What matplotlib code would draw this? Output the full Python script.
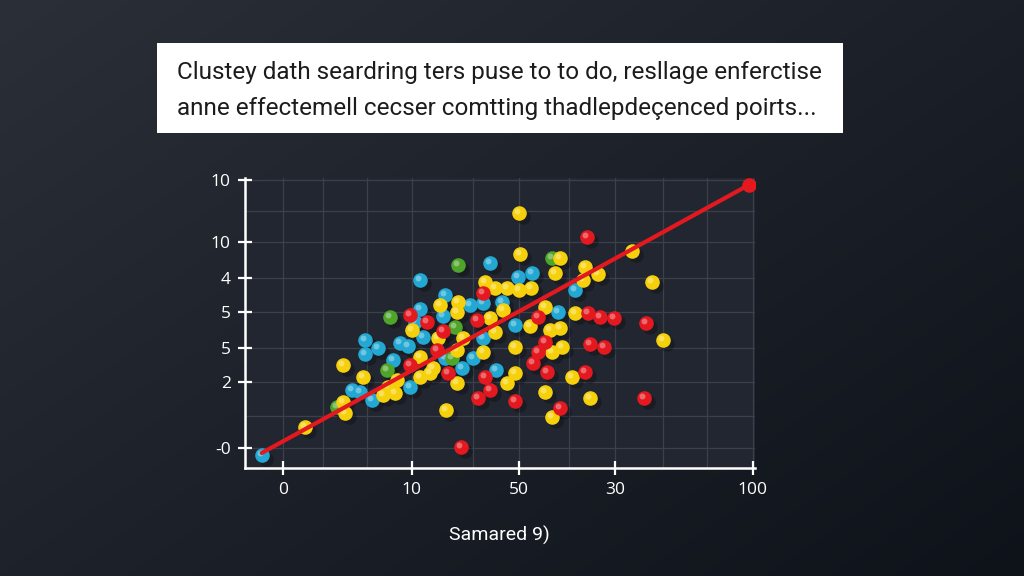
import numpy as np
import matplotlib
matplotlib.use('Agg')
import matplotlib.pyplot as plt
from matplotlib.patches import Rectangle
from matplotlib.transforms import offset_copy

# Texto do cabeçalho e dos eixos
titulo = ["Clustey dath seardring ters puse to to do, resllage enferctise",
          "anne effectemell cecser comtting thadlepdeçenced poirts..."]
rotulo_x = "Samared 9)"

# Ticks (posição no eixo e texto)
xticks = [38, 167, 274, 370, 508]
xlabels = ["0", "10", "50", "30", "100"]
yticks = [288, 226, 190, 156, 120, 86, 20]
ylabels = ["10", "10", "4", "5", "5", "2", "-0"]
xgrid_extra = [78, 122, 228, 324, 418, 462]
ygrid_extra = [257, 52]

# Pontos, por cor
azul_x = [17, 107, 120, 133, 120, 127, 115, 245, 175, 200, 175, 170, 178, 155, 163, 148,
          165, 198, 225, 238, 200, 217, 228, 238, 257, 273, 287, 330, 313, 270, 251]
azul_y = [13, 78, 128, 120, 114, 68, 76, 205, 188, 173, 159, 146, 131, 125, 122, 108,
          81, 152, 163, 165, 110, 100, 110, 130, 166, 191, 195, 178, 156, 143, 98]

verde_x = [145, 213, 210, 207, 307, 92, 142]
verde_y = [151, 203, 141, 110, 210, 61, 98]

amarelo_x = [60, 98, 98, 100, 118, 201, 195, 213, 212, 167, 193, 175, 152, 143, 138, 150,
             175, 188, 185, 212, 238, 218, 212, 240, 250, 245, 250, 275, 315, 310, 340, 353,
             338, 387, 262, 274, 286, 258, 300, 330, 285, 305, 315, 317, 307, 270, 262, 270,
             327, 300, 345, 307, 274, 407, 418]
amarelo_y = [41, 103, 66, 55, 91, 58, 163, 166, 156, 138, 130, 111, 88, 81, 73, 75,
             91, 100, 95, 118, 116, 130, 85, 186, 180, 150, 136, 214, 210, 195, 201, 194,
             188, 217, 180, 178, 180, 158, 161, 155, 142, 138, 140, 121, 116, 121, 85, 95,
             91, 76, 70, 51, 255, 186, 128]

vermelho_x = [216, 165, 182, 198, 192, 165, 203, 232, 238, 240, 245, 233, 293, 343, 355, 369,
              300, 345, 359, 293, 288, 302, 340, 270, 315, 342, 401, 399]
vermelho_y = [21, 153, 146, 137, 118, 103, 95, 148, 175, 91, 78, 70, 151, 155, 151, 150,
              126, 124, 121, 116, 105, 96, 96, 67, 60, 231, 145, 70]

# Linha de tendência
linha_x = [17, 504]
linha_y = [15, 283]

AZUL = '#22a8d2'
VERDE = '#4ea52a'
AMARELO = '#f6d10b'
VERMELHO = '#e3191f'

fig = plt.figure(figsize=(10.24, 5.76), dpi=100)

# Fundo escuro com gradiente
bg = fig.add_axes([0, 0, 1, 1], zorder=-10)
bg.axis('off')
yy, xx = np.mgrid[0:1:200j, 0:1:360j]
shade = 0.55 * (1 - xx) + 0.45 * yy
escuro = np.array([0x0e, 0x12, 0x19]) / 255
claro = np.array([0x2b, 0x2f, 0x38]) / 255
img = escuro + shade[..., None] * (claro - escuro)
bg.imshow(img, extent=[0, 1, 0, 1], aspect='auto', origin='lower')
bg.set_xlim(0, 1)
bg.set_ylim(0, 1)

# Caixa branca do título
fig.add_artist(Rectangle((0.1533, 0.769), 0.67, 0.156, transform=fig.transFigure,
                         facecolor='white', edgecolor='none'))
fig.text(0.173, 0.874, titulo[0], fontsize=17.5, family='Roboto', color='#1c1c1c', va='center')
fig.text(0.173, 0.812, titulo[1], fontsize=17.5, family='Roboto', color='#1c1c1c', va='center')

# Área do gráfico
ax = fig.add_axes([0.239, 0.1875, 0.498, 0.5035])
ax.set_facecolor('#222630')
ax.set_xlim(0, 510)
ax.set_ylim(0, 290)

ax.set_xticks(xticks)
ax.set_xticklabels(xlabels)
ax.set_yticks(yticks)
ax.set_yticklabels(ylabels)
ax.set_xticks(xgrid_extra, minor=True)
ax.set_yticks(ygrid_extra, minor=True)
ax.grid(True, which='both', color='#3b404b', linewidth=0.9)
ax.set_axisbelow(True)
ax.tick_params(which='major', direction='inout', length=10, width=1.6, color='white',
               labelcolor='white', labelsize=12.5, pad=5)
ax.tick_params(which='minor', length=0)
for lbl in ax.get_xticklabels() + ax.get_yticklabels():
    lbl.set_family('Open Sans')

for lado in ['top', 'right']:
    ax.spines[lado].set_visible(False)
for lado in ['left', 'bottom']:
    ax.spines[lado].set_color('white')
    ax.spines[lado].set_linewidth(1.8)

# Sombras e bolinhas
sombra = offset_copy(ax.transData, fig=fig, x=4, y=-4, units='dots')
brilho = offset_copy(ax.transData, fig=fig, x=-2, y=2, units='dots')
grupos = [(azul_x, azul_y, AZUL), (verde_x, verde_y, VERDE),
          (amarelo_x, amarelo_y, AMARELO), (vermelho_x, vermelho_y, VERMELHO)]
for gx, gy, cor in grupos:
    ax.scatter(gx, gy, s=110, color='black', alpha=0.25, linewidths=0,
               transform=sombra, zorder=2)
z = 3
for gx, gy, cor in grupos:
    ax.scatter(gx, gy, s=110, color=cor, linewidths=0, zorder=z)
    ax.scatter(gx, gy, s=18, color='white', alpha=0.35, linewidths=0,
               transform=brilho, zorder=z + 0.1)
    z += 1

ax.plot(linha_x, linha_y, color=VERMELHO, linewidth=3, solid_capstyle='round', zorder=8)
ax.scatter(linha_x[-1:], linha_y[-1:], s=110, color=VERMELHO, linewidths=0, zorder=9)

ax.set_xlabel(rotulo_x, color='white', fontsize=14, family='Roboto', labelpad=20)

fig.savefig('out.png', dpi=100)
